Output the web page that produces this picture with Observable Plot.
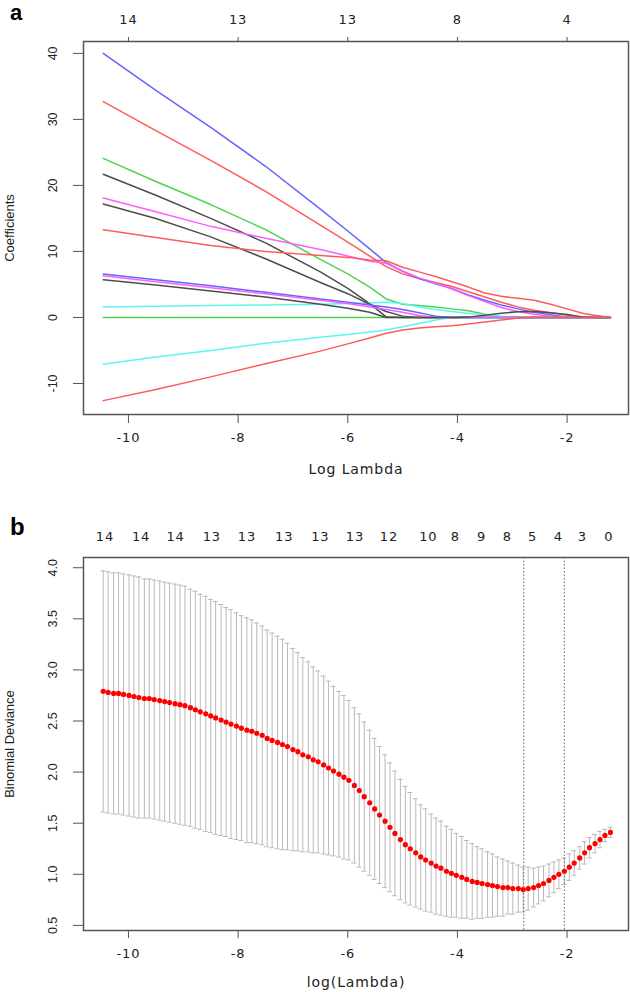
<!DOCTYPE html>
<html><head><meta charset="utf-8">
<script src="https://cdn.jsdelivr.net/npm/d3@7"></script>
<script src="https://cdn.jsdelivr.net/npm/@observablehq/plot@0.6"></script>
<style>
body{margin:0;background:#fff;}
#wrap{position:relative;width:630px;height:992px;overflow:hidden;}
.panel-letter{position:absolute;left:10px;font-family:"Liberation Sans",Arial,sans-serif;font-weight:bold;color:#000;}
svg{display:block;}
g[aria-label="x-axis tick label"]{font-family:"DejaVu Sans";font-size:13px;letter-spacing:0.9px;}
g[aria-label="x-axis label"]{font-family:"DejaVu Sans";font-size:14px;letter-spacing:0.9px;}
g[aria-label="y-axis tick label"]{font-family:"Liberation Sans";font-size:12.5px;}
g[aria-label="y-axis label"]{font-family:"Liberation Sans";font-size:13px;}
</style></head>
<body><div id="wrap"><div class="panel-letter" style="top:2px;font-size:22px;line-height:22px">a</div><div class="panel-letter" style="top:515px;font-size:24px;line-height:24px">b</div></div>
<script>
// ---------- Panel a : coefficient paths ----------
const gridA = [-10.46, -9.5, -8.5, -7.5, -6.5, -6.0, -5.6, -5.3, -5.0, -4.7, -4.4, -4.1, -3.8, -3.5, -3.2, -2.9, -2.6, -2.3, -2.0, -1.7, -1.5, -1.21];
const coefBlue1    = [40.0, 34.4, 28.8, 22.9, 16.4, 13.1, 10.4, 8.3, 7.0, 5.9, 5.1, 4.4, 3.4, 2.6, 1.9, 1.3, 0.8, 0.4, 0.05, 0, 0, 0];
const coefRed1     = [32.7, 28.3, 23.8, 19.1, 14.0, 11.4, 9.3, 7.7, 6.6, 5.9, 5.3, 4.7, 3.9, 3.1, 2.3, 1.6, 1.1, 0.7, 0.35, 0.05, 0, 0];
const coefGreen1   = [24.1, 20.6, 17.1, 13.3, 8.8, 6.6, 4.6, 2.8, 2.0, 1.8, 1.6, 1.3, 1.0, 0.5, 0.1, 0, 0, 0, 0, 0, 0, 0];
const coefBlack1   = [21.7, 18.5, 15.0, 11.3, 6.9, 4.4, 2.1, 0.1, 0, 0, 0, 0, 0, 0, 0, 0, 0, 0, 0, 0, 0, 0];
const coefMagenta1 = [18.1, 16.0, 13.8, 12.0, 10.3, 9.3, 8.5, 8.2, 7.0, 6.0, 5.2, 4.3, 3.3, 2.4, 1.5, 0.9, 0.5, 0.2, 0, 0, 0, 0];
const coefBlack2   = [17.2, 15.0, 12.2, 8.9, 5.3, 3.6, 2.0, 0.9, 0.2, 0, 0, 0, 0, 0, 0, 0, 0, 0, 0, 0, 0, 0];
const coefRed2     = [13.3, 12.1, 10.9, 10.0, 9.4, 9.1, 8.7, 8.6, 7.6, 6.9, 6.2, 5.4, 4.6, 3.7, 3.2, 2.9, 2.6, 2.0, 1.3, 0.6, 0.35, 0];
const coefBlue2    = [6.6, 5.7, 4.8, 3.8, 2.8, 2.3, 1.9, 1.6, 1.2, 0.7, 0.2, 0, 0, 0, 0, 0, 0, 0, 0, 0, 0, 0];
const coefMagenta2 = [6.3, 5.4, 4.5, 3.6, 2.6, 2.1, 1.6, 1.2, 0.8, 0.3, 0, 0, 0, 0, 0, 0, 0, 0, 0, 0, 0, 0];
const coefBlack3   = [5.7, 4.9, 4.0, 3.1, 2.0, 1.4, 0.8, 0, 0, 0, 0, 0, 0.05, 0.35, 0.65, 0.85, 0.9, 0.7, 0.45, 0.05, 0, 0];
const coefCyan1    = [1.6, 1.7, 1.8, 1.9, 2.0, 2.1, 2.2, 2.3, 2.1, 1.6, 1.2, 0.9, 0.6, 0.4, 0.2, 0, 0, 0, 0, 0, 0, 0];
const coefGreen2   = [0, 0, 0, 0, 0, 0, 0, 0, 0, 0, 0, 0, 0, 0, 0, 0, 0, 0, 0, 0, 0, 0];
const coefCyan2    = [-7.1, -6.0, -5.0, -3.9, -3.0, -2.6, -2.2, -1.9, -1.4, -0.9, -0.4, 0, 0, 0, 0, 0, 0, 0, 0, 0, 0, 0];
const coefRed3     = [-12.6, -10.9, -9.0, -7.0, -5.1, -4.0, -3.1, -2.4, -1.9, -1.6, -1.4, -1.25, -1.0, -0.7, -0.4, -0.1, 0, 0, 0, 0, 0, 0];

const xTicks = [-10, -8, -6, -4, -2];
const yTicksA = [-10, 0, 10, 20, 30, 40];
const topLabelsA = ["14", "13", "13", "8", "4"];

// ---------- Panel b : cross-validation curve ----------
const logLambdaCV = [-10.46,-10.37,-10.27,-10.18,-10.09,-9.99,-9.90,-9.81,-9.71,-9.62,
  -9.53,-9.43,-9.34,-9.25,-9.15,-9.06,-8.97,-8.87,-8.78,-8.69,
  -8.59,-8.50,-8.41,-8.31,-8.22,-8.13,-8.03,-7.94,-7.84,-7.75,
  -7.66,-7.56,-7.47,-7.38,-7.28,-7.19,-7.10,-7.00,-6.91,-6.82,
  -6.72,-6.63,-6.54,-6.44,-6.35,-6.26,-6.16,-6.07,-5.98,-5.88,
  -5.79,-5.70,-5.60,-5.51,-5.42,-5.32,-5.23,-5.14,-5.04,-4.95,
  -4.86,-4.76,-4.67,-4.58,-4.48,-4.39,-4.30,-4.20,-4.11,-4.02,
  -3.92,-3.83,-3.73,-3.64,-3.55,-3.45,-3.36,-3.27,-3.17,-3.08,
  -2.99,-2.89,-2.80,-2.71,-2.61,-2.52,-2.43,-2.33,-2.24,-2.15,
  -2.05,-1.96,-1.87,-1.77,-1.68,-1.59,-1.49,-1.40,-1.31,-1.21];
const cvMean = [2.79,2.78,2.77,2.77,2.76,2.75,2.74,2.73,2.72,2.72,
  2.71,2.70,2.69,2.68,2.67,2.66,2.65,2.63,2.61,2.59,
  2.57,2.55,2.53,2.51,2.49,2.47,2.45,2.43,2.41,2.40,
  2.38,2.36,2.33,2.31,2.29,2.27,2.25,2.22,2.20,2.17,
  2.15,2.12,2.10,2.07,2.04,2.01,1.98,1.95,1.92,1.87,
  1.82,1.76,1.70,1.64,1.58,1.52,1.46,1.40,1.34,1.29,
  1.25,1.21,1.17,1.14,1.11,1.08,1.06,1.03,1.01,0.99,
  0.97,0.95,0.93,0.92,0.91,0.90,0.89,0.88,0.87,0.87,
  0.86,0.86,0.85,0.86,0.87,0.89,0.91,0.94,0.97,1.00,
  1.03,1.07,1.11,1.16,1.21,1.26,1.30,1.34,1.38,1.41];
const cvSE = [1.18,1.18,1.18,1.18,1.18,1.18,1.18,1.18,1.17,1.17,
  1.17,1.17,1.17,1.17,1.17,1.17,1.17,1.16,1.16,1.15,
  1.15,1.14,1.14,1.13,1.12,1.12,1.11,1.10,1.10,1.09,
  1.08,1.07,1.06,1.05,1.04,1.03,1.01,0.99,0.97,0.95,
  0.93,0.91,0.89,0.87,0.85,0.83,0.81,0.80,0.78,0.76,
  0.75,0.73,0.71,0.69,0.67,0.65,0.63,0.61,0.59,0.57,
  0.55,0.53,0.51,0.50,0.48,0.47,0.46,0.44,0.43,0.41,
  0.40,0.38,0.37,0.35,0.34,0.32,0.31,0.29,0.28,0.26,
  0.25,0.23,0.22,0.21,0.19,0.18,0.17,0.16,0.15,0.14,
  0.13,0.13,0.12,0.11,0.11,0.10,0.09,0.08,0.06,0.05];
const lambdaMarks = [-2.79, -2.05];   // lambda.min, lambda.1se
const yTicksB = [0.5, 1.0, 1.5, 2.0, 2.5, 3.0, 3.5, 4.0];
const topPosB = [-10.43, -9.77, -9.14, -8.48, -7.84, -7.16, -6.50, -5.87, -5.25, -4.53, -4.04, -3.56, -3.09, -2.63, -2.16, -1.72, -1.24];
const topLabelsB = ["14","14","14","13","13","13","13","13","12","10","8","9","8","5","4","3","0"];

// ---------- build ----------
const series = [
  {v: coefBlack1, c: "#4d4d4d"}, {v: coefRed1, c: "#ff5a5a"}, {v: coefGreen1, c: "#4fd24f"},
  {v: coefBlue1, c: "#6464ff"}, {v: coefCyan1, c: "#5cf5f5"}, {v: coefMagenta1, c: "#ff5cff"},
  {v: coefBlack2, c: "#4d4d4d"}, {v: coefRed2, c: "#ff5a5a"}, {v: coefGreen2, c: "#4fd24f"},
  {v: coefBlue2, c: "#6464ff"}, {v: coefCyan2, c: "#5cf5f5"}, {v: coefMagenta2, c: "#ff5cff"},
  {v: coefBlack3, c: "#4d4d4d"}, {v: coefRed3, c: "#ff5a5a"}
];
const frameColor = "#555";
const fmt = d => String(d);

const plotA = Plot.plot({
  width: 630, height: 495,
  marginLeft: 83, marginRight: 2, marginTop: 41, marginBottom: 81,
  x: {domain: [-10.82, -0.88]},
  y: {domain: [-14.7, 41.8]},
  marks: [
    ...series.map(s => Plot.line(gridA.map((x, i) => ({x, y: s.v[i]})), {x: "x", y: "y", stroke: s.c, strokeWidth: 1.5})),
    Plot.frame({stroke: frameColor, strokeWidth: 1.5}),
    Plot.axisX({anchor: "bottom", ticks: xTicks, tickSize: 9, tickPadding: 9, tickFormat: fmt, stroke: frameColor, fill: "#222",
      label: "Log Lambda", labelAnchor: "center", labelArrow: "none", labelOffset: 59}),
    Plot.axisX({anchor: "top", ticks: xTicks, tickSize: 5, tickPadding: 13, tickFormat: d => topLabelsA[xTicks.indexOf(d)], stroke: frameColor, fill: "#222", label: null}),
    Plot.axisY({anchor: "left", ticks: yTicksA, tickSize: 10, tickPadding: 17, tickRotate: -90, tickFormat: fmt, stroke: frameColor, fill: "#222",
      label: "Coefficients", labelAnchor: "center", labelArrow: "none", labelOffset: 79})
  ]
});

const cv = logLambdaCV.map((x, i) => ({x, m: cvMean[i], s: cvSE[i]}));
const capHalf = 0.045;
const barColor = "#b9b9b9";
const plotB = Plot.plot({
  width: 630, height: 497,
  marginLeft: 83, marginRight: 2, marginTop: 62, marginBottom: 62,
  x: {domain: [-10.82, -0.88]},
  y: {domain: [0.45, 4.10]},
  marks: [
    Plot.ruleX(cv, {x: "x", y1: d => d.m - d.s, y2: d => d.m + d.s, stroke: barColor, strokeWidth: 1}),
    Plot.ruleY(cv, {y: d => d.m + d.s, x1: d => d.x - capHalf, x2: d => d.x + capHalf, stroke: barColor, strokeWidth: 1}),
    Plot.ruleY(cv, {y: d => d.m - d.s, x1: d => d.x - capHalf, x2: d => d.x + capHalf, stroke: barColor, strokeWidth: 1}),
    Plot.dot(cv, {x: "x", y: "m", r: 2.6, fill: "#ff0000", stroke: "none"}),
    Plot.ruleX(lambdaMarks, {stroke: "#666", strokeWidth: 1, strokeDasharray: "1.5,2"}),
    Plot.frame({stroke: frameColor, strokeWidth: 1.5}),
    Plot.axisX({anchor: "bottom", ticks: xTicks, tickSize: 8, tickPadding: 10, tickFormat: fmt, stroke: frameColor, fill: "#222",
      label: "log(Lambda)", labelAnchor: "center", labelArrow: "none", labelOffset: 56}),
    Plot.axisX({anchor: "top", ticks: topPosB, tickSize: 0, tickPadding: 17, tickFormat: d => topLabelsB[topPosB.indexOf(d)], fill: "#222", label: null}),
    Plot.axisY({anchor: "left", ticks: yTicksB, tickSize: 10, tickPadding: 17, tickRotate: -90, tickFormat: d3.format(".1f"), stroke: frameColor, fill: "#222",
      label: "Binomial Deviance", labelAnchor: "center", labelArrow: "none", labelOffset: 79})
  ]
});

const wrap = document.getElementById("wrap");
wrap.insertBefore(plotB, wrap.firstChild);
wrap.insertBefore(plotA, wrap.firstChild);
</script></body></html>
